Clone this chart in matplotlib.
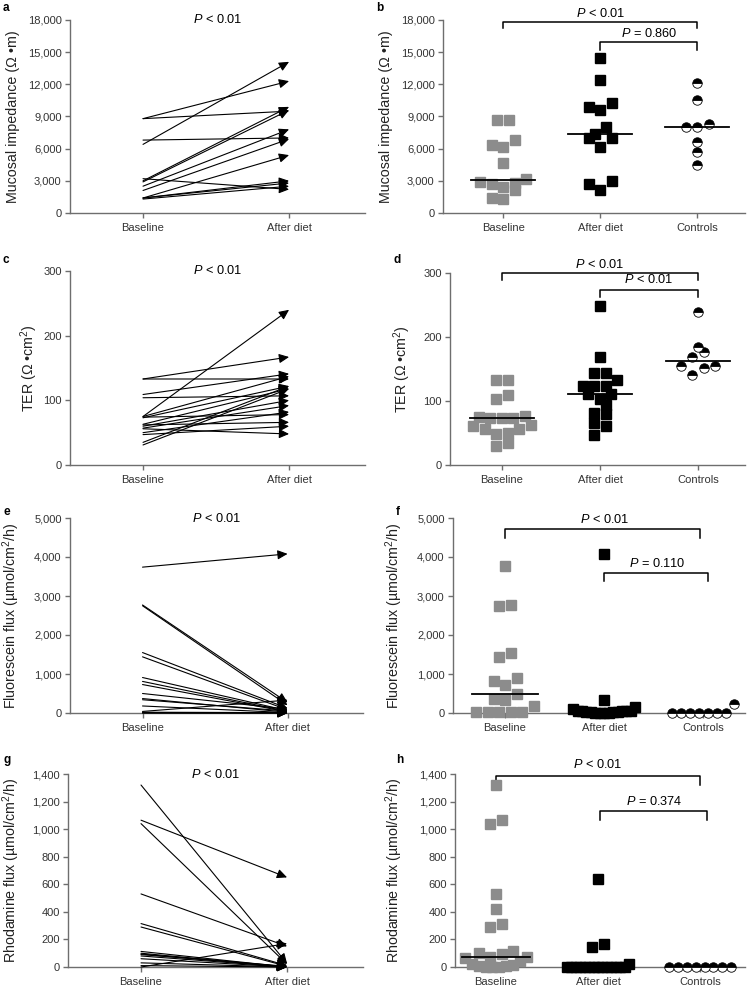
"""
Mucosal barrier measures at baseline, after diet and in controls"""

import numpy as np
import matplotlib.pyplot as plt
from matplotlib.ticker import FuncFormatter

plt.rcParams['font.family'] = ['Liberation Sans', 'DejaVu Sans']
plt.rcParams['mathtext.fontset'] = 'custom'
plt.rcParams['mathtext.rm'] = 'Liberation Sans'
plt.rcParams['mathtext.it'] = 'Liberation Sans:italic'

W, H = 747, 990
GRAY = '#6e6e6e'
SQ_GRAY = '#8c8c8c'

PAIR_CATS = ['Baseline', 'After diet']
GROUP_CATS = ['Baseline', 'After diet', 'Controls']

# a / b: mucosal impedance
imp_pair_base = [8800, 8800, 6400, 6800, 3000, 2900, 2500, 2100, 1400, 3200, 1400, 1400, 1300]
imp_pair_after = [12300, 9500, 14100, 7000, 9900, 9600, 7800, 6900, 5400, 2200, 3000, 2800, 2500]
imp_base = [8700, 8700, 6300, 6200, 6800, 4700, 2700, 2900, 2800, 3200, 2100, 2400, 1300, 1400]
imp_after = [14500, 12400, 10300, 9900, 9600, 8000, 7400, 7000, 7000, 6200, 3000, 2700, 2100]
imp_ctrl = [12100, 10550, 8300, 8050, 8050, 6650, 5650, 4500]

# c / d: TER
ter_pair_base = [75, 133, 133, 109, 104, 75, 73, 63, 60, 57, 50, 47, 35, 31, 74, 62, 56]
ter_pair_after = [240, 167, 133, 141, 107, 137, 122, 118, 100, 92, 82, 60, 122, 118, 78, 66, 48]
ter_base = [133, 133, 109, 103, 77, 74, 73, 74, 75, 62, 57, 49, 50, 56, 61, 30, 34]
ter_after = [248, 168, 143, 143, 133, 124, 124, 124, 111, 111, 103, 93, 79, 82, 65, 61, 47]
ter_ctrl = [239, 185, 177, 169, 155, 155, 152, 140]

# e / f: fluorescein flux
flu_pair_base = [3740, 2770, 2750, 1550, 1440, 910, 810, 730, 500, 370, 340, 180, 40, 20, 10, 5, 0]
flu_pair_after = [4080, 270, 200, 120, 80, 60, 40, 30, 100, 20, 50, 10, 330, 10, 5, 0, 0]
flu_base = [3760, 2750, 2770, 1550, 1440, 910, 730, 810, 500, 370, 340, 180, 20, 20, 20, 20, 20]
flu_after = [4080, 330, 150, 110, 60, 50, 50, 40, 40, 30, 30, 20, 20, 10, 10, 5, 0]
flu_ctrl = [0, 0, 0, 0, 0, 0, 0, 240]

# g / h: rhodamine flux
rho_pair_base = [1320, 1065, 1040, 530, 315, 290, 113, 100, 94, 90, 80, 60, 30, 10, 0]
rho_pair_after = [25, 650, 20, 150, 10, 5, 0, 0, 0, 5, 0, 0, 0, 0, 170]
rho_base = [1320, 1065, 1040, 530, 420, 315, 290, 113, 100, 94, 70,
            75, 65, 40, 25, 15, 10, 5, 0, 0, 0]
rho_after = [640, 167, 145, 22, 0, 0, 0, 0, 0, 0, 0, 0, 0, 0, 0, 0, 0, 0]
rho_ctrl = [0, 0, 0, 0, 0, 0, 0, 0]

fig = plt.figure(figsize=(W / 100, H / 100), dpi=100)


def box(l, t, r, b):
    return fig.add_axes([l / W, 1 - b / H, (r - l) / W, (b - t) / H])


def style(ax, ymax, step, xlim, cats, ylabel, label_x, letter, letter_xy):
    ax.set_ylim(0, ymax)
    ax.set_yticks(np.arange(0, ymax + 1, step))
    ax.yaxis.set_major_formatter(FuncFormatter(lambda v, p: f'{v:,.0f}'))
    ax.set_xlim(*xlim)
    ax.set_xticks(range(len(cats)))
    ax.set_xticklabels(cats)
    for s in ['top', 'right']:
        ax.spines[s].set_visible(False)
    for s in ['left', 'bottom']:
        ax.spines[s].set_color(GRAY)
        ax.spines[s].set_linewidth(1.0)
    ax.tick_params(colors=GRAY, labelcolor='#333333', labelsize=8,
                   length=3.5, width=1.0, pad=2.5)
    ax.tick_params(axis='x', pad=4)
    ax.set_ylabel(ylabel, fontsize=10.3, color='#222222')
    pos = ax.get_position()
    ax.yaxis.set_label_coords((label_x / W - pos.x0) / pos.width, 0.5)
    fig.text(letter_xy[0] / W, 1 - letter_xy[1] / H, letter, fontsize=8.5,
             fontweight='bold', va='center', ha='left')


def paired(ax, base, after):
    for b0, a0 in zip(base, after):
        ax.annotate('', xy=(1, a0), xytext=(0, b0), annotation_clip=False,
                    arrowprops=dict(arrowstyle='-|>,head_length=0.6,head_width=0.28',
                                    mutation_scale=10, lw=0.8, color='black',
                                    shrinkA=0, shrinkB=0))
    ax.text(0.5, 1.0, '$P$ < 0.01', transform=ax.transAxes, ha='center',
            va='center', fontsize=9.2)


def row_offsets(vals, ppu_y, ppu_x, step=11.5, half=31, bin_px=10):
    v = np.asarray(vals, float)
    order = np.argsort(v, kind='stable')
    offs = np.zeros(len(v))
    rows, cur = [], [order[0]]
    for k in order[1:]:
        if (v[k] - v[cur[0]]) * ppu_y > bin_px:
            rows.append(cur)
            cur = [k]
        else:
            cur.append(k)
    rows.append(cur)
    for r in rows:
        n = len(r)
        if n == 1:
            continue
        s = min(step, 2 * half / (n - 1))
        pos = (np.arange(n) - (n - 1) / 2) * s
        pos = sorted(pos, key=lambda p: (-abs(p), -p))
        idx = sorted(r, key=lambda k: -v[k])
        for j, k in enumerate(idx):
            offs[k] = pos[j]
    return offs / ppu_x


def groups(ax, data, ppu_y, ppu_x, show_med=(True, True, True)):
    styles = [dict(marker='s', ms=7.6, mfc=SQ_GRAY, mec=SQ_GRAY),
              dict(marker='s', ms=7.6, mfc='black', mec='black'),
              dict(marker='o', ms=6.8, fillstyle='top', mfc='black',
                   mfcalt='white', mec='black', mew=0.6)]
    for i, (vals, st, sm) in enumerate(zip(data, styles, show_med)):
        offs = row_offsets(vals, ppu_y, ppu_x)
        ax.plot(i + offs, vals, ls='none', clip_on=False, zorder=3, **st)
        if sm:
            med = np.median(vals)
            ax.plot([i - 0.33, i + 0.33], [med, med], color='black', lw=1.3,
                    zorder=4, clip_on=False)


def bracket(ax, x0, x1, y, drop, text, tx, ty):
    ax.plot([x0, x0, x1, x1], [y - drop, y, y, y - drop], color='black',
            lw=1.1, clip_on=False)
    ax.text(tx, ty, text, ha='center', va='center', fontsize=9.2)


# a
ax = box(70, 20, 365, 213)
paired(ax, imp_pair_base, imp_pair_after)
style(ax, 18000, 3000, (-0.5, 1.52), PAIR_CATS, 'Mucosal impedance (Ω •m)', 20, 'a', (3, 8))

# b
ax = box(443, 20, 745, 213)
groups(ax, [imp_base, imp_after, imp_ctrl], 193 / 18000, 97)
style(ax, 18000, 3000, (-0.62, 2.49), GROUP_CATS, 'Mucosal impedance (Ω •m)', 393, 'b', (376, 8))
bracket(ax, 0, 2, 17850, 620, '$P$ < 0.01', 1, 18650)
bracket(ax, 1, 2, 15980, 780, '$P$ = 0.860', 1.5, 16780)

# c
ax = box(70, 271, 365, 465)
paired(ax, ter_pair_base, ter_pair_after)
style(ax, 300, 100, (-0.5, 1.52), PAIR_CATS, 'TER (Ω •cm$^2$)', 40, 'c', (3, 260))

# d
ax = box(450, 273, 745, 465)
groups(ax, [ter_base, ter_after, ter_ctrl], 192 / 300, 98)
style(ax, 300, 100, (-0.53, 2.48), GROUP_CATS, 'TER (Ω •cm$^2$)', 413, 'd', (393, 260))
bracket(ax, 0, 2, 300, 11, '$P$ < 0.01', 1, 314)
bracket(ax, 1, 2, 274, 11, '$P$ < 0.01', 1.5, 290)

# e
ax = box(70, 518, 363, 713)
paired(ax, flu_pair_base, flu_pair_after)
style(ax, 5000, 1000, (-0.5, 1.52), PAIR_CATS, 'Fluorescein flux (µmol/cm$^2$/h)', 22, 'e', (4, 512))

# f
ax = box(453, 518, 745, 713)
groups(ax, [flu_base, flu_after, flu_ctrl], 195 / 5000, 99, (True, False, False))
style(ax, 5000, 1000, (-0.525, 2.42), GROUP_CATS, 'Fluorescein flux (µmol/cm$^2$/h)', 405, 'f', (396, 512))
bracket(ax, 0, 1.97, 4717, 230, '$P$ < 0.01', 1, 4950)
bracket(ax, 1, 2.05, 3585, 190, '$P$ = 0.110', 1.53, 3830)

# g
ax = box(68, 774, 363, 967)
paired(ax, rho_pair_base, rho_pair_after)
style(ax, 1400, 200, (-0.5, 1.52), PAIR_CATS, 'Rhodamine flux (µmol/cm$^2$/h)', 22, 'g', (4, 760))

# h
ax = box(455, 774, 745, 967)
groups(ax, [rho_base, rho_after, rho_ctrl], 193 / 1400, 102, (True, False, False))
style(ax, 1400, 200, (-0.40, 2.44), GROUP_CATS, 'Rhodamine flux (µmol/cm$^2$/h)', 405, 'h', (396, 760))
bracket(ax, 0, 2.0, 1389, 68, '$P$ < 0.01', 1.0, 1470)
bracket(ax, 1.02, 2.07, 1133, 65, '$P$ = 0.374', 1.55, 1200)

plt.savefig('out.png', dpi=100)
